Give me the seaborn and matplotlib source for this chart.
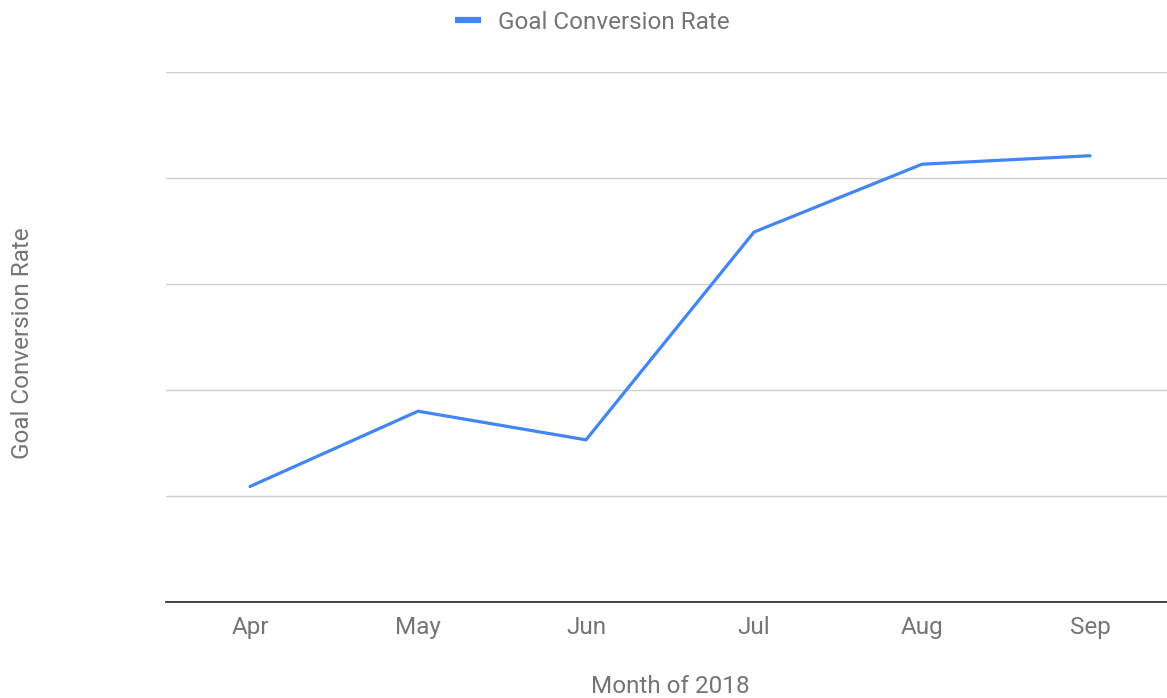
import matplotlib
matplotlib.use("Agg")
import matplotlib.pyplot as plt
import seaborn as sns
import pandas as pd

# Monthly goal conversion rate, 2018
months = ["Apr", "May", "Jun", "Jul", "Aug", "Sep"]
conversion_rate = [1.09, 1.80, 1.53, 3.49, 4.13, 4.21]

df = pd.DataFrame({"Month of 2018": months, "Goal Conversion Rate": conversion_rate})

sns.set_theme(style="white")
plt.rcParams["font.family"] = ["Roboto", "DejaVu Sans"]

TEXT = "#757575"
BLUE = "#4285F4"
FS = 17.5

fig = plt.figure(figsize=(11.67, 6.98), dpi=100)
ax = fig.add_axes([166 / 1167, 1 - 602 / 698, 1008 / 1167, 530 / 698])

sns.lineplot(data=df, x="Month of 2018", y="Goal Conversion Rate", ax=ax,
             color=BLUE, linewidth=2.3, sort=False,
             label="Goal Conversion Rate")

ax.set_xlim(-0.5, 5.5)
ax.set_ylim(0, 5)
ax.set_yticks([1, 2, 3, 4, 5])
ax.set_yticklabels([])
ax.tick_params(axis="y", length=0)
ax.tick_params(axis="x", length=0, pad=10, labelsize=FS, labelcolor=TEXT)
ax.grid(axis="y", color="#cfcfcf", linewidth=1.0)
ax.grid(axis="x", visible=False)

for side in ["top", "right", "left"]:
    ax.spines[side].set_visible(False)
ax.spines["bottom"].set_color("#333333")
ax.spines["bottom"].set_linewidth(1.3)

ax.set_xlabel("Month of 2018", fontsize=FS, color=TEXT)
ax.xaxis.set_label_coords(0.5, -0.138)
ax.set_ylabel("Goal Conversion Rate", fontsize=FS, color=TEXT)
ax.yaxis.set_label_coords(-0.131, 0.488)

leg = ax.legend(loc="center", bbox_to_anchor=(0.4226, 1.094), frameon=False,
                fontsize=FS, handlelength=1.07, handletextpad=0.7,
                labelcolor=TEXT)
for h in leg.get_lines():
    h.set_linewidth(4.5)
    h.set_solid_capstyle("butt")

fig.savefig("out.png", dpi=100)
